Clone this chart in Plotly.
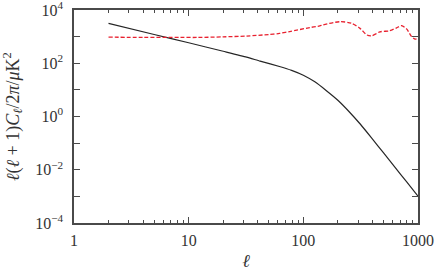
import plotly.graph_objects as go

# multipole values and spectra
ell_black = [2, 5, 10, 20, 32, 42, 63, 79, 100, 126, 158, 200, 251, 316, 398, 501, 631, 794, 1000]
cl_black = [3160, 1200, 589, 282, 170, 120, 74, 54, 35.5, 20, 9.5, 4.07, 1.51, 0.50, 0.148, 0.0427, 0.0123,
             0.00355, 0.00102]

ell_red = [2, 4, 8.4, 12, 20, 32, 50, 62, 76, 114, 139, 148, 208, 264, 312, 359, 394, 465, 567, 651, 718, 795,
           880, 940, 1000]
cl_red = [955, 933, 933, 930, 980, 1050, 1200, 1320, 1550, 2190, 2510, 2750, 3630, 3160, 2040, 1150, 1070, 1510,
          1660, 2140, 2570, 1950, 1000, 813, 850]

x_ticks = [1, 10, 100, 1000]
x_labels = ["1", "10", "100", "1000"]
x_minor = [2, 3, 4, 5, 6, 7, 8, 9, 20, 30, 40, 50, 60, 70, 80, 90, 200, 300, 400, 500, 600, 700, 800, 900]
y_ticks = [1e4, 1e2, 1, 1e-2, 1e-4]
y_labels = ["10<sup>4</sup>", "10<sup>2</sup>", "10<sup>0</sup>", "10<sup>−2</sup>", "10<sup>−4</sup>"]
y_minor = [1e3, 1e1, 1e-1, 1e-3]

fig = go.Figure()
fig.add_trace(go.Scatter(x=ell_black, y=cl_black, mode="lines",
                         line=dict(color="#262626", width=1.2, shape="spline", smoothing=0.5)))
fig.add_trace(go.Scatter(x=ell_red, y=cl_red, mode="lines",
                         line=dict(color="#e8212f", width=1.3, dash="4px,2px", shape="spline", smoothing=0.8)))

font = "Liberation Serif, serif"
axis_style = dict(
    showgrid=False, zeroline=False, showline=True, linecolor="#4a4a4a", linewidth=1.5,
    mirror="allticks", ticks="inside", ticklen=6, tickcolor="#4a4a4a", tickwidth=1,
    tickfont=dict(family=font, size=16, color="#333333"), ticklabeloverflow="allow",
    automargin=False,
)

fig.update_xaxes(type="log", range=[0, 3], tickvals=x_ticks, ticktext=x_labels, ticklabelstandoff=2,
                 minor=dict(tickvals=x_minor, ticks="inside", ticklen=3, tickcolor="#4a4a4a"),
                 title=dict(text="<i>ℓ</i>", font=dict(family=font, size=18, color="#333333"), standoff=8),
                 **axis_style)
fig.update_yaxes(type="log", range=[-4, 4], tickvals=y_ticks, ticktext=y_labels, ticklabelstandoff=6,
                 minor=dict(tickvals=y_minor, ticks="inside", ticklen=6, tickcolor="#4a4a4a"),
                 title=dict(text="<i>ℓ</i>(<i>ℓ</i> + 1)<i>C<sub>ℓ</sub></i>/2<i>π</i>/<i>μ</i>K<sup>2</sup>",
                            font=dict(family=font, size=18, color="#333333"), standoff=12),
                 **axis_style)

fig.update_layout(
    width=436, height=271,
    margin=dict(l=74, r=18, t=10, b=48),
    plot_bgcolor="white", paper_bgcolor="white",
    showlegend=False,
)

# drop the default page margin so the figure sits at the window's corner
fig.write_html("out.html", config={"displayModeBar": False},
               post_script="document.body.style.margin='0';")
